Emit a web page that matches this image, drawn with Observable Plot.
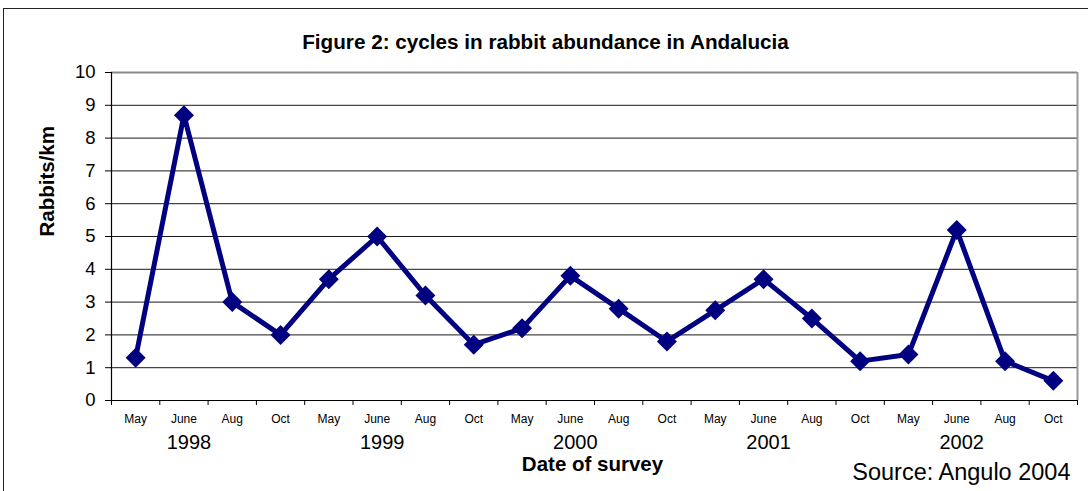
<!DOCTYPE html>
<html>
<head>
<meta charset="utf-8">
<script src="https://cdn.jsdelivr.net/npm/d3@7"></script>
<script src="https://cdn.jsdelivr.net/npm/@observablehq/plot@0.6"></script>
<style>
  html, body { margin: 0; padding: 0; background: #fff; }
  #wrap { position: relative; width: 1088px; height: 491px; overflow: hidden; }
  #outer { position: absolute; left: 3px; top: 8px; width: 2000px; height: 1000px; border: 1.5px solid #222; pointer-events: none; }
</style>
</head>
<body>
<div id="wrap"><div id="outer"></div></div>
<script>
const title = "Figure 2: cycles in rabbit abundance in Andalucia";
const yLabel = "Rabbits/km";
const xLabel = "Date of survey";
const source = "Source: Angulo 2004";
const years = [1998, 1999, 2000, 2001, 2002];
const months = ["May", "June", "Aug", "Oct"];
const values = [
  1.3, 8.7, 3.0, 2.0,
  3.7, 5.0, 3.2, 1.7,
  2.2, 3.8, 2.8, 1.8,
  2.75, 3.7, 2.5, 1.2,
  1.4, 5.2, 1.2, 0.6
];
const yTicks = d3.range(0, 11);

const data = values.map((v, i) => ({
  i,
  month: months[i % months.length],
  year: years[Math.floor(i / months.length)],
  value: v
}));
const n = data.length;
const boundaries = d3.range(n + 1).map(k => k - 0.5);
const yearData = years.map((y, k) => ({year: y, i: k * months.length + 1}));
const font = "'Liberation Sans', Arial, sans-serif";

const plot = Plot.plot({
  width: 1088,
  height: 491,
  marginLeft: 111,
  marginRight: 11,
  marginTop: 72,
  marginBottom: 91,
  style: {fontFamily: font, background: "transparent", color: "#000"},
  x: {type: "linear", domain: [-0.5, n - 0.5], axis: null, label: null},
  y: {domain: [0, 10], axis: null, label: null},
  marks: [
    Plot.ruleY(yTicks.filter(t => t > 0 && t < 10), {stroke: "#1a1a1a", strokeWidth: 1}),
    Plot.ruleY([10], {stroke: "#888", strokeWidth: 2}),
    Plot.ruleX([n - 0.5], {stroke: "#999", strokeWidth: 2}),
    Plot.ruleY([0], {stroke: "#000", strokeWidth: 1.2}),
    Plot.ruleX([-0.5], {stroke: "#000", strokeWidth: 1.2}),
    Plot.axisY(yTicks, {tickSize: 6, tickPadding: 10, fontSize: 18.5, tickFormat: d => d, stroke: "#000", label: null}),
    Plot.axisX(boundaries, {tickSize: 5, tickFormat: () => "", stroke: "#000", label: null}),
    Plot.axisX(data.map(d => d.i), {tickSize: 0, tickPadding: 14, fontSize: 12, tickFormat: k => data[k].month, label: null}),
    Plot.text(yearData, {x: "i", text: d => String(d.year), frameAnchor: "bottom", lineAnchor: "top", dy: 34, dx: 5, fontSize: 20}),
    Plot.line(data, {x: "i", y: "value", stroke: "#000080", strokeWidth: 5}),
    Plot.dot(data, {x: "i", y: "value", symbol: "diamond2", r: 9, fill: "#000080", stroke: "none"}),
    Plot.text([title], {frameAnchor: "top", lineAnchor: "top", dy: -38, dx: -49, fontSize: 20.7, fontWeight: "bold"}),
    Plot.text([yLabel], {frameAnchor: "left", rotate: -90, lineAnchor: "middle", dx: -64, fontSize: 20.5, fontWeight: "bold"}),
    Plot.text([xLabel], {frameAnchor: "bottom", lineAnchor: "top", dy: 56, dx: -2, fontSize: 20.5, fontWeight: "bold"}),
    Plot.text([source], {frameAnchor: "bottom-right", textAnchor: "end", lineAnchor: "top", dy: 63, dx: -7, fontSize: 23.5})
  ]
});
document.getElementById("wrap").prepend(plot);
</script>
</body>
</html>
